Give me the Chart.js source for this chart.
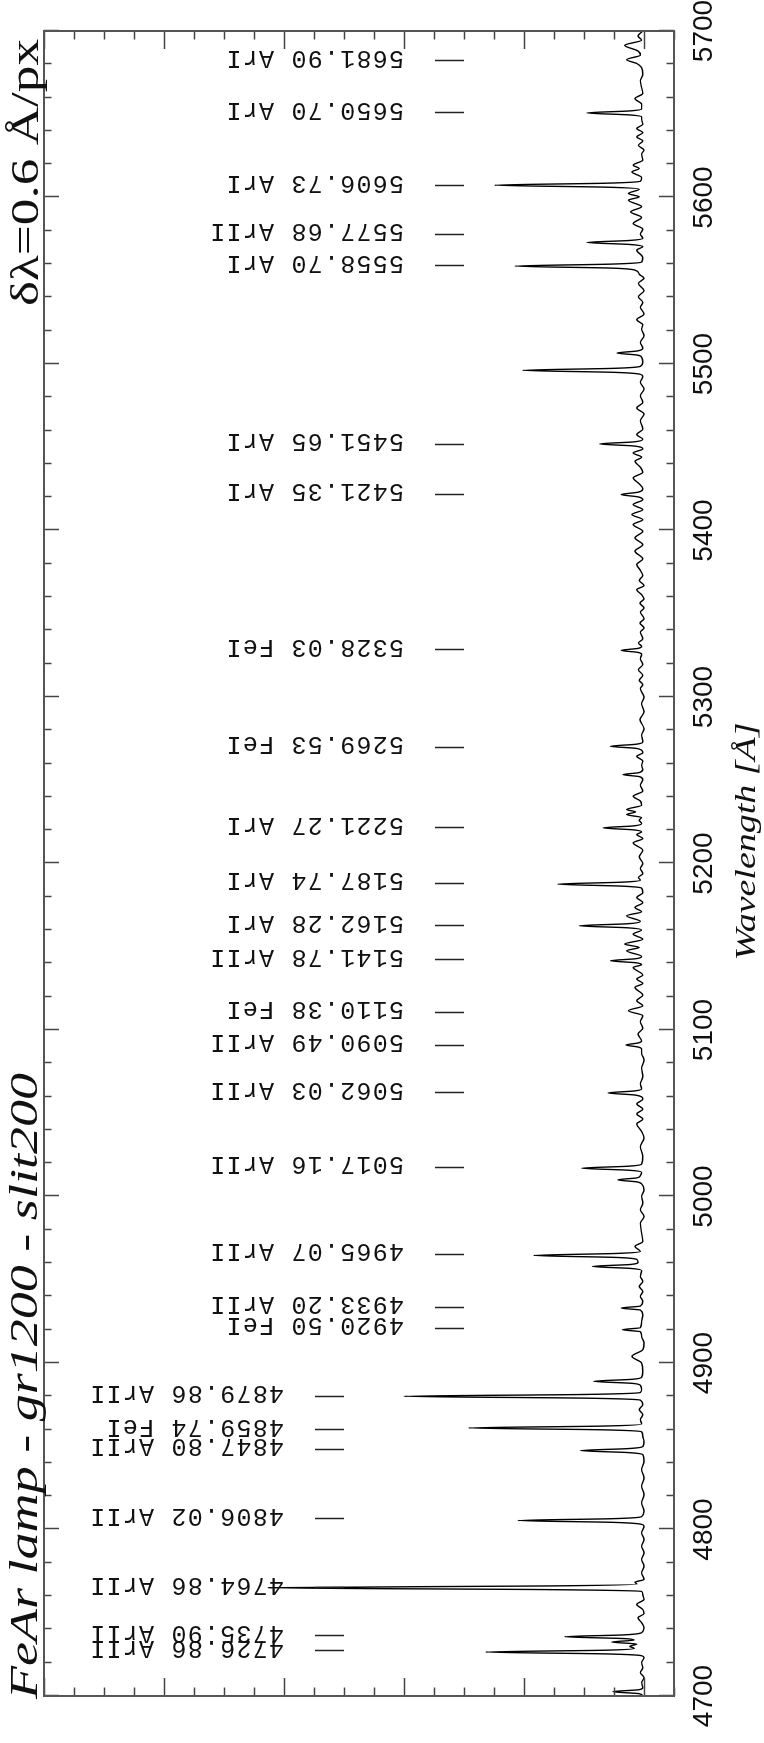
<!DOCTYPE html>
<html>
<head>
<meta charset="utf-8">
<script src="https://cdn.jsdelivr.net/npm/chart.js@4.4.1/dist/chart.umd.min.js"></script>
<style>
html,body{margin:0;padding:0;background:#fff;overflow:hidden;width:764px;height:1743px;}
#wrap{position:absolute;left:0;top:0;width:1743px;height:764px;transform-origin:0 0;transform:translate(0,1743px) rotate(-90deg);}
canvas{display:block;}
</style>
</head>
<body>
<div id="wrap"><canvas id="c" width="1743" height="764"></canvas></div>
<script>
// ---- DATA ----
// spectrum: [wavelength (Å), relative intensity]
const spectrum = [
[4700,0.01],[4701.4,0.04],[4702.6,0.26],[4703.8,0.04],[4705,0.01],[4708,0.02],[4711,0],[4714,0.03],[4717,0.01],[4720,0.02],[4723,0],
[4724.2,0.02],[4725.3,0.33],[4726.4,1.32],[4727.5,0.33],[4728.6,0.08],[4729.8,0.12],[4731.2,0.06],[4732.4,0.27],[4733.6,0.08],[4734.5,0.17],[4735.6,0.66],[4736.7,0.17],[4738,0.02],
[4741,0],[4744,0.02],[4747,0.05],[4749.5,0],[4752,0.01],[4755,0.06],[4758,0],[4761,0.01],
[4762.8,0.02],[4763.9,0.8],[4765,3.13],[4766.1,0.8],[4767.2,0.06],[4768.3,0.075],[4770,0],
[4774,0.02],[4778,0],[4782,0.02],[4786,0],[4790,0.02],[4794,0],[4798,0.02],[4802,0],
[4803.1,0.02],[4804.3,0.26],[4805.4,1.05],[4806.5,0.26],[4807.7,0.02],
[4811,0],[4816,0.02],[4821,0],[4826,0.02],[4831,0],[4836,0.02],[4841,0],[4845,0.01],
[4846.2,0.13],[4847.4,0.53],[4848.6,0.13],[4849.8,0.01],[4853,0],[4856,0.01],
[4858.7,0.02],[4859.9,0.36],[4861,1.46],[4862.1,0.36],[4863.3,0.02],[4866,0.03],[4869,0.01],[4872,0.04],[4875,0.01],
[4877.7,0.03],[4878.9,0.5],[4880,2.0],[4881.1,0.5],[4882.3,0.03],[4884,0.02],
[4886.6,0.03],[4887.8,0.1],[4889,0.42],[4890.2,0.1],[4891.4,0.02],[4895,0.01],[4900,0.02],[4904,0.1],[4908,0.01],[4912,0],[4916,0.02],
[4918.8,0.03],[4920,0.18],[4921.2,0.03],[4925,0.02],[4929,0.01],[4931.8,0.03],[4933,0.19],[4934.2,0.03],
[4937,0.01],[4940,0.03],[4943,0.01],[4946,0.04],[4949,0.01],[4952,0.03],
[4955.6,0.02],[4956.8,0.11],[4958,0.43],[4959.2,0.11],[4960.6,0.05],[4962.2,0.06],[4963.4,0.23],[4964.6,0.92],[4965.8,0.23],[4967,0.03],
[4970,0.075],[4973,0.01],[4978,0.02],[4984,0.03],[4988,0],[4992,0.03],[4996,0.01],[5000,0.02],[5004,0],
[5007.6,0.02],[5008.8,0.06],[5010,0.22],[5011.2,0.06],[5012.6,0.03],[5014.6,0.02],[5015.8,0.13],[5017,0.52],[5018.2,0.13],[5019.4,0.02],
[5024,0.01],[5030,0.03],[5035,0],[5039,0.02],[5043.6,0.06],[5046.5,0.01],[5049.6,0.06],[5052.5,0.01],[5055.6,0.06],[5058.5,0.01],
[5059.8,0.02],[5061,0.08],[5062.2,0.3],[5063.4,0.08],[5064.6,0.02],[5067.6,0.03],[5072,0.01],[5077,0.02],[5082,0],[5086,0.02],
[5088.6,0.02],[5089.8,0.05],[5091,0.15],[5092.2,0.05],[5093.4,0.02],[5097.6,0.05],[5101,0.01],[5105,0.03],[5108.6,0.01],
[5111.6,0.13],[5114.5,0.01],[5117.6,0.06],[5121,0.01],[5125.6,0.075],[5128,0.01],[5130.6,0.06],[5133,0.01],[5137.6,0.09],
[5139.2,0.02],[5140.4,0.07],[5141.6,0.28],[5142.8,0.07],[5144.2,0.02],[5147.6,0.145],[5149.6,0.04],[5151.6,0.16],[5154.5,0.01],[5157.6,0.09],
[5160.1,0.02],[5161.4,0.14],[5162.6,0.54],[5163.8,0.14],[5165.2,0.03],[5168.6,0.145],[5171,0.02],[5173.6,0.075],[5176.5,0.01],[5179.6,0.06],[5182.5,0.01],
[5185.2,0.02],[5186.4,0.18],[5187.6,0.72],[5188.8,0.18],[5190,0.03],[5191.6,0.047],[5194,0.01],[5197,0.03],[5200,0.01],[5204,0.04],[5208,0.01],
[5212.4,0.09],[5215,0.01],[5217.4,0.06],[5219,0.02],[5220.2,0.085],[5221.4,0.34],[5222.6,0.085],[5224,0.02],[5226,0.04],[5227.6,0.02],
[5229.4,0.145],[5231,0.07],[5232.4,0.145],[5235,0.02],[5237.5,0.03],[5240.4,0.09],[5243.5,0.01],[5247,0.03],[5250.5,0.01],
[5252.2,0.04],[5253.4,0.175],[5254.6,0.04],[5256.5,0.01],[5259,0.02],[5261.5,0.01],[5264.4,0.06],[5266.5,0.01],
[5268,0.02],[5269.2,0.07],[5270.4,0.28],[5271.6,0.07],[5273,0.01],[5277,0.02],[5281,0],[5286.4,0.033],[5291,0],[5296,0.02],[5300,0],
[5305,0.03],[5307.5,0.01],[5310,0.04],[5313,0.01],[5316.4,0.047],[5319.5,0.01],[5323,0.03],
[5325.6,0.02],[5326.8,0.05],[5328,0.19],[5329.2,0.05],[5330.4,0.02],[5332.4,0.047],[5335,0.01],[5339,0.03],[5341.5,0],[5344.4,0.033],
[5347,0],[5351,0.03],[5353.5,0],[5356.4,0.033],[5359,0],[5361.5,0.02],[5364.4,0.06],[5367,0],[5370,0.04],[5373,0.01],[5376,0.03],
[5379.6,0.06],[5383,0.01],[5387.6,0.075],[5391.5,0.01],[5395.6,0.075],[5399.5,0.01],[5403.6,0.09],[5406.5,0.01],[5409.6,0.1],[5412.5,0.01],[5415.6,0.09],[5418.5,0.01],
[5420.2,0.05],[5421.6,0.19],[5423,0.05],[5425,0.01],[5428,0.04],[5431.6,0.09],[5435,0.01],[5438,0.03],[5441.6,0.075],[5444,0.02],[5446.6,0.09],[5449,0.01],
[5450.8,0.09],[5452,0.37],[5453.2,0.09],[5454.8,0.01],[5457.6,0.06],[5461,0.01],[5466,0.03],[5470,0],[5473.6,0.06],[5477,0.01],[5481,0.03],[5485,0],[5489,0.03],[5492.5,0.01],
[5493.8,0.03],[5495,0.25],[5496.2,1.01],[5497.4,0.25],[5498.6,0.03],[5501,0.01],[5504,0.02],[5505.4,0.06],[5506.6,0.225],[5507.8,0.06],[5509.5,0.01],
[5513,0.03],[5517,0],[5521,0.02],[5523.5,0.01],[5526.6,0.06],[5530,0],[5534,0.03],[5537,0.01],[5540.4,0.047],[5544,0],[5548.4,0.047],[5551.5,0],[5554,0.04],
[5556.4,0.075],[5557.6,0.27],[5558.8,1.075],[5560,0.27],[5561.2,0.02],[5564,0.01],[5568.4,0.06],[5570.5,0.01],
[5571.8,0.12],[5573,0.475],[5574.2,0.12],[5575.5,0.01],[5578,0.03],[5581,0.01],[5584.4,0.09],[5588,0.02],[5591.4,0.11],[5594.5,0.02],[5598.4,0.13],[5600.4,0.04],[5602.4,0.13],
[5605,0.04],[5606.2,0.31],[5607.4,1.245],[5608.6,0.31],[5609.8,0.03],[5612,0.02],[5615.4,0.1],[5617.4,0.04],[5619.4,0.09],[5622.5,0.01],[5626,0.02],[5628.5,0],
[5631.4,0.047],[5634,0.01],[5636.4,0.06],[5639,0.01],[5641.4,0.06],[5644,0.01],[5647,0.02],
[5648.4,0.02],[5649.6,0.12],[5650.8,0.475],[5652,0.12],[5653.2,0.02],[5656,0.02],[5659.4,0.075],[5662.5,0.01],[5666,0.02],[5670,0.03],[5674,0.01],[5678,0.02],
[5680.5,0.06],[5682.8,0.145],[5685.5,0.03],[5688,0.05],[5691.4,0.16],[5694.5,0.02],[5697,0.05],[5700,0.01]
];

const lineWavelengths = [4726.86,4735.90,4764.86,4806.02,4847.80,4859.74,4879.86,4920.50,4933.20,4965.07,5017.16,5062.03,5090.49,5110.38,5141.78,5162.28,5187.74,5221.27,5269.53,5328.03,5421.35,5451.65,5558.70,5577.68,5606.73,5650.70,5681.90];
const lineIons = ['ArII','ArII','ArII','ArII','ArII','FeI','ArII','FeI','ArII','ArII','ArII','ArII','ArII','FeI','ArII','ArI','ArI','ArI','FeI','FeI','ArI','ArI','ArI','ArII','ArI','ArI','ArI'];

const wavelengthTickLabels = [4700,4800,4900,5000,5100,5200,5300,5400,5500,5600,5700];
const titleText = 'FeAr lamp - gr1200 - slit200';
const dispersionText = 'δλ=0.6 Å/px';
const xAxisTitle = 'Wavelength [Å]';

// ---- DECORATION (IDL style frame, inward ticks, labels) ----
const decor = {
  id: 'decor',
  afterDraw(chart) {
    const ctx = chart.ctx;
    const a = chart.chartArea;
    const xs = chart.scales.x, ys = chart.scales.y;
    const seg = (x0,y0,x1,y1)=>{ctx.beginPath();ctx.moveTo(x0,y0);ctx.lineTo(x1,y1);ctx.stroke();};
    ctx.save();
    // ticks
    ctx.strokeStyle = '#444'; ctx.lineWidth = 1.5;
    for (let w = 4700; w <= 5700; w += 20) {
      const px = Math.round(xs.getPixelForValue(w)) + 0.5;
      const L = (w % 100 === 0) ? 15 : 7.5;
      seg(px, a.bottom, px, a.bottom - L);
      seg(px, a.top, px, a.top + L);
    }
    for (let k = -1; k <= 21; k++) {
      const v = k * 0.25;
      if (v < ys.min || v > ys.max) continue;
      const py = Math.round(ys.getPixelForValue(v)) + 0.5;
      const L = (k % 4 === 0) ? 18 : 8.5;
      seg(a.left, py, a.left + L, py);
      seg(a.right, py, a.right - L, py);
    }
    // frame
    ctx.strokeStyle = '#555'; ctx.lineWidth = 2;
    ctx.strokeRect(a.left, a.top, a.right - a.left, a.bottom - a.top);

    // tick labels
    ctx.fillStyle = '#111';
    ctx.font = '28px "Liberation Sans", Arial, sans-serif';
    ctx.textAlign = 'center'; ctx.textBaseline = 'alphabetic';
    wavelengthTickLabels.forEach(w => ctx.fillText(String(w), xs.getPixelForValue(w), a.bottom + 38));

    const fitText = (str, font, x0, yb, width, align) => {
      ctx.save();
      ctx.font = font; ctx.textAlign = 'left'; ctx.textBaseline = 'alphabetic';
      const w = ctx.measureText(str).width;
      const start = align === 'center' ? x0 - width / 2 : (align === 'right' ? x0 - width : x0);
      ctx.translate(start, yb); ctx.scale(width / w, 1);
      ctx.fillText(str, 0, 0);
      ctx.restore();
    };
    // axis title, plot title, dispersion
    fitText(xAxisTitle, 'italic 30px "Liberation Serif", serif', (a.left + a.right) / 2 + 22, a.bottom + 81, 238, 'center');
    fitText(titleText, 'italic 40px "Liberation Serif", serif', a.left - 3, 37, 626, 'left');
    fitText(dispersionText, '40px "Liberation Serif", serif', a.right - 8, 38, 267, 'right');

    // line identifications
    ctx.strokeStyle = '#222'; ctx.lineWidth = 1.5;
    ctx.fillStyle = '#111';
    lineWavelengths.forEach((w, i) => {
      const px = xs.getPixelForValue(w);
      const lower = w < 4900;
      const d0 = lower ? 315 : 435, d1 = lower ? 344 : 464;
      seg(Math.round(px) + 0.5, d0, Math.round(px) + 0.5, d1);
      const str = w.toFixed(2) + ' ' + lineIons[i];
      const textStart = lower ? 284 : 404;
      ctx.save();
      ctx.font = '25px "Liberation Mono", "DejaVu Sans Mono", monospace';
      ctx.textAlign = 'left'; ctx.textBaseline = 'alphabetic';
      const nat = ctx.measureText(str).width;
      const target = str.length * 16.4 - 3;
      ctx.translate(px + 10.5, textStart);
      ctx.rotate(-Math.PI / 2);
      if ('letterSpacing' in ctx) {
        ctx.letterSpacing = ((target - nat) / (str.length - 1)).toFixed(2) + 'px';
        ctx.fillText(str, 0, 0);
      } else {
        ctx.scale(target / nat, 1);
        ctx.fillText(str, 0, 0);
      }
      ctx.restore();
    });
    ctx.restore();
  }
};

new Chart(document.getElementById('c').getContext('2d'), {
  type: 'line',
  data: {
    datasets: [{
      data: spectrum.map(p => ({x: p[0], y: p[1]})),
      borderColor: '#000',
      borderWidth: 1.4,
      pointRadius: 0,
      fill: false,
      cubicInterpolationMode: 'monotone'
    }]
  },
  options: {
    responsive: false,
    animation: false,
    devicePixelRatio: 1,
    layout: { padding: { left: 47, right: 31, top: 44, bottom: 90 } },
    plugins: { legend: { display: false }, tooltip: { enabled: false }, title: { display: false } },
    scales: {
      x: { type: 'linear', min: 4700, max: 5700, display: false },
      y: { type: 'linear', min: -0.25, max: 5, display: false }
    }
  },
  plugins: [decor]
});
</script>
</body>
</html>
